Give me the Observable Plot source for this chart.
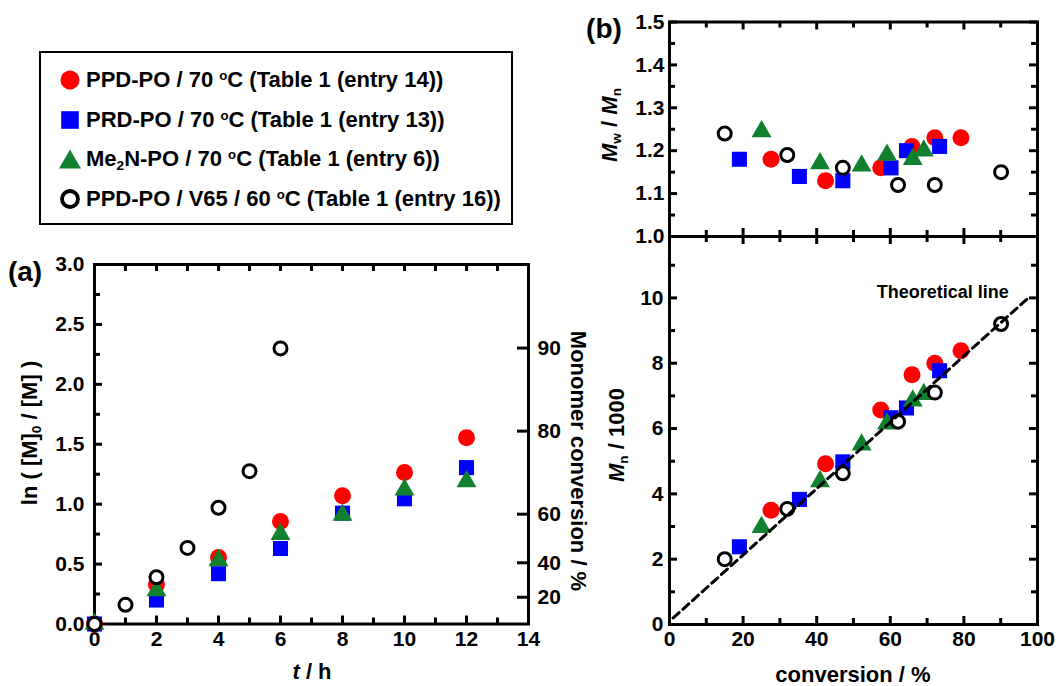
<!DOCTYPE html>
<html>
<head>
<meta charset="utf-8">
<script src="https://cdn.jsdelivr.net/npm/d3@7"></script>
<script src="https://cdn.jsdelivr.net/npm/@observablehq/plot@0.6"></script>
<style>
  html, body { margin:0; padding:0; background:#fff; }
  #fig { position:relative; width:1059px; height:686px; background:#fff; overflow:hidden;
         font-family:"Liberation Sans", Arial, sans-serif; font-weight:bold; color:#000; }
  #fig > svg { position:absolute; }
  .lbl { position:absolute; white-space:nowrap; line-height:1; }
  .sub { font-size:0.62em; vertical-align:-0.28em; }
  .sup { font-size:0.6em; vertical-align:0.55em; }
  #legend { position:absolute; left:39px; top:51px; width:474px; height:174px; box-sizing:border-box;
            border:2.5px solid #000; }
  #legend .row { position:absolute; left:0; height:30px; display:flex; align-items:center; font-size:22px; white-space:nowrap; }
  #legend .row svg { position:static; display:block; margin-left:18px; margin-right:5px; }
</style>
</head>
<body>
<div id="fig"></div>
<script>
// ---------- DATA ----------
// Panel (a): first-order kinetic plot, ln([M]0/[M]) vs time (h)
const timeH = [0, 2, 4, 6, 8, 10, 12];
const lnPPD70 = [0, 0.33, 0.555, 0.855, 1.07, 1.265, 1.555];
const lnPRD70 = [0, 0.20, 0.42, 0.63, 0.925, 1.045, 1.305];
const lnMe2N70 = [0, 0.28, 0.53, 0.75, 0.91, 1.12, 1.19];
const timeV65 = [0, 1, 2, 3, 4, 5, 6];
const lnV65 = [0, 0.16, 0.39, 0.635, 0.97, 1.275, 2.30];
const convTicks = [20, 40, 60, 80, 90];            // right axis (monomer conversion / %)
const timeTicks = [0, 2, 4, 6, 8, 10, 12, 14];
const lnTicks = [0, 0.5, 1.0, 1.5, 2.0, 2.5, 3.0];

// Panel (b): Mn and Mw/Mn vs conversion (%)
const convPPD70 = [27.6, 42.4, 57.4, 65.9, 72.1, 79.2];
const mnPPD70 = [3.50, 4.92, 6.57, 7.65, 8.00, 8.38];
const pdiPPD70 = [1.18, 1.13, 1.16, 1.21, 1.23, 1.23];
const convPRD70 = [19.0, 35.3, 47.1, 60.2, 64.4, 73.4];
const mnPRD70 = [2.38, 3.83, 4.98, 6.33, 6.63, 7.77];
const pdiPRD70 = [1.18, 1.14, 1.13, 1.16, 1.20, 1.21];
const convMe2N70 = [25.0, 40.9, 52.2, 59.1, 66.1, 69.1];
const mnMe2N70 = [2.98, 4.38, 5.50, 6.15, 6.85, 7.05];
const pdiMe2N70 = [1.245, 1.17, 1.165, 1.19, 1.18, 1.20];
const convV65 = [15.0, 32.0, 47.1, 62.1, 72.1, 90.1];
const mnV65 = [2.00, 3.54, 4.63, 6.21, 7.10, 9.20];
const pdiV65 = [1.24, 1.19, 1.16, 1.12, 1.12, 1.15];
const theoryConv = [1, 97.5];
const theoryMn = [0.2, 10.0];
const theoryNote = [{conv: 92.2, mn: 10.16, text: "Theoretical line"}];
const convAxisTicks = [0, 20, 40, 60, 80, 100];
const mnTicks = [0, 2, 4, 6, 8, 10];
const pdiTicks = [1.0, 1.1, 1.2, 1.3, 1.4, 1.5];

// ---------- STYLE ----------
const RED = "#ff0000", BLUE = "#0000ff", GREEN = "#11802f";
const fig = document.getElementById("fig");
const baseStyle = {background: "transparent", overflow: "visible",
  fontFamily: "'Liberation Sans', Arial, sans-serif", fontWeight: "bold", fontSize: "21px", color: "#000"};
const rows = (xs, ys) => xs.map((x, i) => ({x, y: ys[i]}));
const range = (a, b, s) => d3.range(a, b + s / 2, s);
const TW = 3; // tick stroke width
const frame = () => Plot.frame({fill: "none", stroke: "black", strokeWidth: 3});

// Inward tick marks as short rules; their pixel length is converted to data units of each panel.
function tickKit(xd, yd, innerW, innerH) {
  const kx = (xd[1] - xd[0]) / innerW, ky = (yd[1] - yd[0]) / innerH;
  const st = {stroke: "black", strokeWidth: TW};
  return {
    bottom: (vals, len) => Plot.ruleX(vals, {x: d => d, y1: yd[0], y2: yd[0] + len * ky, ...st}),
    top: (vals, len) => Plot.ruleX(vals, {x: d => d, y1: yd[1], y2: yd[1] - len * ky, ...st}),
    left: (vals, len) => Plot.ruleY(vals, {y: d => d, x1: xd[0], x2: xd[0] + len * kx, ...st}),
    right: (vals, len) => Plot.ruleY(vals, {y: d => d, x1: xd[1], x2: xd[1] - len * kx, ...st})
  };
}

function seriesMarks(sets) {
  return [
    Plot.dot(sets[0], {x: "x", y: "y", symbol: "circle", r: 8.5, fill: RED}),
    Plot.dot(sets[1], {x: "x", y: "y", symbol: "square", r: 8.5, fill: BLUE}),
    Plot.dot(sets[2], {x: "x", y: "y", symbol: "triangle", r: 7.4, fill: GREEN}),
    Plot.dot(sets[3], {x: "x", y: "y", symbol: "circle", r: 6.5, fill: "white", stroke: "black", strokeWidth: 3})
  ];
}
function place(svg, left, top) {
  svg.style.left = left + "px"; svg.style.top = top + "px";
  fig.appendChild(svg);
}

// ---------- PANEL (a) ----------
const aDX = [0, 14], aDY = [0, 3];
const aW = 600, aH = 456, aML = 94, aMR = 72, aMT = 34, aMB = 62.5;
const tA = tickKit(aDX, aDY, aW - aML - aMR, aH - aMT - aMB);
const convPos = convTicks.map(c => -Math.log(1 - c / 100));
const A = Plot.plot({
  width: aW, height: aH,
  marginLeft: aML, marginRight: aMR, marginTop: aMT, marginBottom: aMB,
  x: {domain: aDX}, y: {domain: aDY},
  style: baseStyle,
  marks: [
    Plot.axisX({ticks: timeTicks, tickSize: 0, tickPadding: 7, label: null}),
    Plot.axisY({ticks: lnTicks, tickSize: 0, tickPadding: 10, tickFormat: d3.format(".1f"), label: null}),
    Plot.axisY({anchor: "right", ticks: convPos, tickSize: 0, tickPadding: 9,
      tickFormat: d => Math.round((1 - Math.exp(-d)) * 100), label: null}),
    tA.bottom(timeTicks, 8),
    tA.bottom(range(1, 13, 2), 6),
    tA.top(range(1, 13, 1), 7),
    tA.left(lnTicks, 8),
    tA.left(range(0.25, 2.75, 0.5), 6),
    tA.right(convPos, 11),
    frame(),
    ...seriesMarks([rows(timeH, lnPPD70), rows(timeH, lnPRD70), rows(timeH, lnMe2N70), rows(timeV65, lnV65)])
  ]
});
place(A, 0, 230);

// ---------- PANEL (b) top: Mw/Mn ----------
const bDX = [0, 100], b1DY = [1.0, 1.5], b2DY = [0, 11.88];
const bW = 479, bML = 89, bMR = 22;
const b1H = 240, b1MT = 21.5, b1MB = 4;
const tB1 = tickKit(bDX, b1DY, bW - bML - bMR, b1H - b1MT - b1MB);
const B1 = Plot.plot({
  width: bW, height: b1H,
  marginLeft: bML, marginRight: bMR, marginTop: b1MT, marginBottom: b1MB,
  x: {domain: bDX, axis: null}, y: {domain: b1DY},
  style: baseStyle,
  marks: [
    Plot.axisY({ticks: pdiTicks, tickSize: 0, tickPadding: 5, tickFormat: d3.format(".1f"), label: null}),
    tB1.bottom(range(0, 100, 20), 8),
    tB1.bottom(range(10, 90, 20), 6),
    tB1.top(range(0, 100, 20), 8),
    tB1.top(range(10, 90, 20), 6),
    tB1.left(pdiTicks, 8),
    tB1.left(range(1.05, 1.45, 0.1), 6),
    tB1.right(pdiTicks, 8),
    tB1.right(range(1.05, 1.45, 0.1), 6),
    frame(),
    ...seriesMarks([rows(convPPD70, pdiPPD70), rows(convPRD70, pdiPRD70), rows(convMe2N70, pdiMe2N70), rows(convV65, pdiV65)])
  ]
});
place(B1, 580, 0);

// ---------- PANEL (b) bottom: Mn ----------
const b2H = 454, b2MT = 4, b2MB = 62;
const tB2 = tickKit(bDX, b2DY, bW - bML - bMR, b2H - b2MT - b2MB);
const B2 = Plot.plot({
  width: bW, height: b2H,
  marginLeft: bML, marginRight: bMR, marginTop: b2MT, marginBottom: b2MB,
  x: {domain: bDX}, y: {domain: b2DY},
  style: baseStyle,
  marks: [
    Plot.axisX({ticks: convAxisTicks, tickSize: 0, tickPadding: 7, label: null}),
    Plot.axisY({ticks: mnTicks, tickSize: 0, tickPadding: 6, label: null}),
    tB2.bottom(convAxisTicks, 8),
    tB2.bottom(range(10, 90, 20), 6),
    tB2.top(convAxisTicks, 8),
    tB2.top(range(10, 90, 20), 6),
    tB2.left(mnTicks, 8),
    tB2.left(range(1, 11, 2), 6),
    tB2.right(mnTicks, 8),
    tB2.right(range(1, 11, 2), 6),
    frame(),
    ...seriesMarks([rows(convPPD70, mnPPD70), rows(convPRD70, mnPRD70), rows(convMe2N70, mnMe2N70), rows(convV65, mnV65)]),
    Plot.line(rows(theoryConv, theoryMn), {x: "x", y: "y", stroke: "black", strokeWidth: 3, strokeDasharray: "8,5"}),
    Plot.text(theoryNote, {x: "conv", y: "mn", text: "text", textAnchor: "end", fontSize: 18, fontWeight: "bold"})
  ]
});
place(B2, 580, 232);

// ---------- TEXT LABELS ----------
function addLabel(html, cx, cy, rot, size) {
  const d = document.createElement("div");
  d.className = "lbl";
  d.innerHTML = html;
  Object.assign(d.style, {left: cx + "px", top: cy + "px", fontSize: size + "px",
    transform: `translate(-50%,-50%) rotate(${rot}deg)`});
  fig.appendChild(d);
}
addLabel("(a)", 25, 272, 0, 28);
addLabel("(b)", 604, 29, 0, 28);
addLabel('ln ( [M]<span class="sub">0</span> / [M] )', 31, 433, -90, 22);
addLabel("Monomer conversion / %", 578, 461, 90, 22);
addLabel("<i>t</i> / h", 312, 672, 0, 22);
addLabel("conversion / %", 853, 675, 0, 22);
addLabel('<i>M</i><span class="sub">w</span> / <i>M</i><span class="sub">n</span>', 611, 125, -90, 22);
addLabel('<i>M</i><span class="sub">n</span> / 1000', 618, 435, -90, 22);

// ---------- LEGEND ----------
const legendItems = [
  {shape: "circle", color: RED, html: 'PPD-PO / 70 <span class="sup">o</span>C (Table 1 (entry 14))'},
  {shape: "square", color: BLUE, html: 'PRD-PO / 70 <span class="sup">o</span>C (Table 1 (entry 13))'},
  {shape: "triangle", color: GREEN, html: 'Me<span class="sub">2</span>N-PO / 70 <span class="sup">o</span>C (Table 1 (entry 6))'},
  {shape: "open", color: "black", html: 'PPD-PO / V65 / 60 <span class="sup">o</span>C (Table 1 (entry 16))'}
];
const legendRowY = [80.5, 120, 159.5, 199];
const legend = document.createElement("div");
legend.id = "legend";
fig.appendChild(legend);
legendItems.forEach((it, i) => {
  const r = document.createElement("div");
  r.className = "row";
  r.style.top = (legendRowY[i] - 51 - 2.5 - 15) + "px";
  let sym;
  if (it.shape === "circle") sym = `<circle cx="11" cy="11" r="9.5" fill="${it.color}"/>`;
  else if (it.shape === "square") sym = `<rect x="2.2" y="2.2" width="17.6" height="17.6" fill="${it.color}"/>`;
  else if (it.shape === "triangle") sym = `<path d="M11,1.5 L22,20.5 L0,20.5 Z" fill="${it.color}"/>`;
  else sym = `<circle cx="11" cy="11" r="8" fill="white" stroke="black" stroke-width="3.8"/>`;
  r.innerHTML = `<svg width="22" height="22" viewBox="0 0 22 22">${sym}</svg><span>${it.html}</span>`;
  legend.appendChild(r);
});
</script>
</body>
</html>
